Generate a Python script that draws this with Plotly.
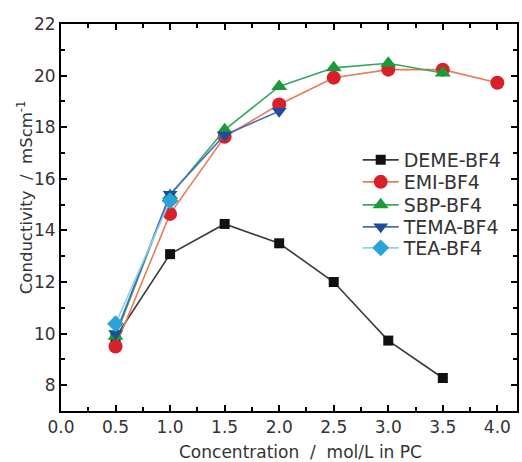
import plotly.graph_objects as go

conc = [0.5, 1.0, 1.5, 2.0, 2.5, 3.0, 3.5, 4.0]

deme = [9.85, 13.08, 14.25, 13.5, 12.0, 9.73, 8.28]
emi = [9.5, 14.64, 17.63, 18.88, 19.92, 20.23, 20.23, 19.72]
sbp = [9.9, 15.35, 17.9, 19.58, 20.3, 20.48, 20.1]
tema = [10.0, 15.4, 17.7, 18.62]
tea = [10.38, 15.15]

series = [
    ("DEME-BF4", deme, "#3a3a3a", "#111111", "square", 10),
    ("EMI-BF4", emi, "#ec7a55", "#d8202a", "circle", 14),
    ("SBP-BF4", sbp, "#35a860", "#1a9a3a", "triangle-up", 14),
    ("TEMA-BF4", tema, "#4a6fb5", "#1b4f9c", "triangle-down", 13),
    ("TEA-BF4", tea, "#8fd0ee", "#2aa3d8", "diamond", 13),
]

font = "DejaVu Sans, Liberation Sans, Arial, sans-serif"
L, R, T, B, W, H = 61, 3, 24, 51, 522, 462
pw, ph = W - L - R, H - T - B

legend_rows = [160, 182, 205, 227, 248]
legend_names = ["legend", "legend2", "legend3", "legend4", "legend5"]

fig = go.Figure()
for i, (name, vals, lc, mc, sym, sz) in enumerate(series):
    fig.add_trace(go.Scatter(
        x=conc[:len(vals)], y=vals, name=name, mode="lines+markers",
        line=dict(color=lc, width=1.6),
        marker=dict(symbol=sym, size=sz, color=mc),
        legend=legend_names[i],
    ))

axis_common = dict(
    showline=True, linecolor="black", linewidth=2, mirror="allticks",
    ticks="inside", ticklen=6, tickwidth=1.5, tickcolor="black",
    showgrid=False, zeroline=False,
    tickfont=dict(family=font, size=17, color="#333333"),
)
fig.update_xaxes(range=[0, 4.18], tickvals=[0, 0.5, 1, 1.5, 2, 2.5, 3, 3.5, 4],
                 ticktext=["0.0", "0.5", "1.0", "1.5", "2.0", "2.5", "3.0", "3.5", "4.0"],
                 minor=dict(ticks="inside", ticklen=4, dtick=0.25, tick0=0, tickcolor="black", tickwidth=1.5),
                 **axis_common)
fig.update_yaxes(range=[7, 22], tickvals=[8, 10, 12, 14, 16, 18, 20, 22],
                 minor=dict(ticks="inside", ticklen=4, dtick=1, tick0=0, tickcolor="black", tickwidth=1.5),
                 **axis_common)

fig.add_annotation(text="Concentration  /  mol/L in PC", xref="paper", yref="paper",
                   x=(302 - L) / pw, y=-(452 - (H - B)) / ph, showarrow=False,
                   font=dict(family=font, size=17, color="#333333"), xanchor="center", yanchor="middle")
fig.add_annotation(text="Conductivity  /  mScm<sup>-1</sup>", xref="paper", yref="paper",
                   x=-(L - 25) / pw, y=((H - B) - 198) / ph, showarrow=False, textangle=-90,
                   font=dict(family=font, size=16.5, color="#333333"), xanchor="center", yanchor="middle")

legend_layout = {}
for ln, ry in zip(legend_names, legend_rows):
    legend_layout[ln] = dict(
        x=(359 - L) / pw, y=((H - B) - ry) / ph, xanchor="left", yanchor="middle",
        font=dict(family=font, size=19, color="#333333"),
        bgcolor="rgba(0,0,0,0)", itemwidth=36,
    )

fig.update_layout(
    width=W, height=H,
    margin=dict(l=L, r=R, t=T, b=B),
    plot_bgcolor="white", paper_bgcolor="white",
    showlegend=True,
    **legend_layout,
)

fig.write_html("out.html", config={"displayModeBar": False},
               post_script="document.body.style.margin='0px';")
